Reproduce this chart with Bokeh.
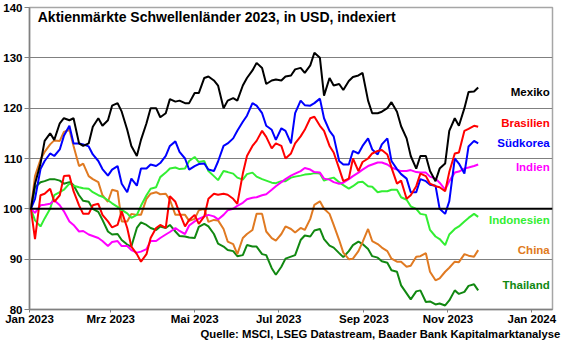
import pandas as pd
from bokeh.plotting import figure
from bokeh.models import Span, Label, FixedTicker, ColumnDataSource, Range1d
from bokeh.core.properties import value
from bokeh.embed import file_html
from bokeh.resources import INLINE

# ---- data (Monday / Thursday readings, indexed to 100) ----
mondays = list(pd.date_range("2023-01-02", periods=47, freq="7D"))
thursdays = list(pd.date_range("2023-01-05", periods=47, freq="7D"))
dates = sorted(mondays + thursdays)

mexiko = [100, 105, 109, 113.5, 115, 113.7, 117, 118, 117.6, 118, 113, 112.5, 113, 116.3, 118, 116.5,
          117.6, 120.5, 121, 119.3, 115.7, 112.5, 110.5, 113.7, 117, 120, 120, 118.2, 119, 121.8, 121.3, 121.5,
          121, 121, 123, 123, 126, 126.3, 125.5, 124.5, 120, 121.5, 122, 121.5, 124.5, 126, 127.5, 129,
          128, 124.8, 125.5, 125.7, 125.5, 126.3, 126.5, 127.7, 128, 127, 128.5, 131, 130, 122.5,
          126, 124.5, 124.8, 123.6, 125.4, 126.2, 126.5, 127, 121.5, 119, 119, 119.3, 120, 121.2, 119.3, 116.4,
          114, 110.5, 108, 110.5, 110.5, 107.5, 105.5, 108, 109, 115.5, 118, 116.5, 120, 123.2, 123.3, 124.1]
suedkorea = [100, 102, 107.9, 109.5, 111, 110.5, 111.8, 114.5, 116.5, 113, 113, 112.8, 112.4, 110.8, 109.5, 107.9,
             106.6, 107.8, 108.5, 105, 103.3, 106, 104.6, 108, 108, 108.8, 108.5, 109.1, 110.5, 112.5, 113.4, 111.3,
             110, 107.8, 108.5, 108.9, 109, 107.8, 107.5, 109.4, 112.5, 113, 114, 115.5, 117.3, 118.5, 121, 120.5,
             119, 116.5, 115.7, 113.7, 116, 115.5, 113, 119, 121.5, 120.6, 120.5, 121, 121.9, 118,
             115.5, 114.4, 109.5, 108.8, 108.8, 111.5, 111, 112.5, 114, 111.8, 110.8, 112.8, 114, 109.5, 107.9, 106.9,
             106, 103.3, 103.3, 105.9, 105.5, 104.8, 104.6, 100, 99, 101.5, 110, 109, 107, 112.4, 113.5, 113]
brasilien = [100, 94, 102.7, 103, 104, 101.4, 102.7, 106.5, 106.6, 103.5, 100.7, 99, 99, 100.7, 101, 98.8,
             97.5, 96.3, 96.8, 99.5, 96.2, 92.5, 91, 89.5, 91, 94.2, 96.2, 96.8, 96.2, 102.5, 101.4, 99.2,
             96.5, 97.8, 98.8, 97, 98.5, 102, 103, 102.8, 103, 102.8, 102, 101, 107, 110.5, 112.5, 113.5,
             115.5, 114.3, 112, 113, 112.5, 110, 111, 113, 114.4, 115.7, 118, 118.3, 116.5, 115.5,
             112.5, 111.2, 108, 105.5, 106, 110, 107.5, 109.3, 110, 111, 111.5, 111.7, 110.8, 108.2, 105, 105.6,
             102, 102.7, 104.5, 107, 106.5, 105, 104.5, 104.3, 103.5, 107.3, 111, 111.2, 115.5, 115.9, 116.5, 116.3]
indien = [100, 99.2, 100.7, 100.8, 101, 101.7, 100.7, 99.5, 97.5, 96.8, 95.5, 95.6, 94.9, 94.6, 94.2, 93.6,
          92.6, 93.4, 93.6, 92.6, 92.6, 91.8, 91.3, 91.5, 92, 93.6, 93.6, 94.2, 94.9, 95.4, 96.2, 95.6,
          95, 96.7, 97.5, 98, 98.5, 98.8, 98.5, 97.9, 98.8, 99.7, 100, 100.6, 101.2, 101.9, 102.2, 102.3,
          102.7, 102.9, 103.8, 104.5, 105.3, 105.9, 106.6, 107, 107.5, 108.1, 107.8, 107.3, 107.2, 106,
          105.8, 105.3, 105, 105.2, 105.9, 106.5, 107.2, 107.8, 108.5, 108.8, 109.2, 109.2, 108.8, 108.2, 107.8, 107.5,
          107.5, 107.7, 107.3, 107.2, 107.2, 106.4, 106, 105.2, 103.8, 105.5, 107.2, 107.4, 108, 108.2, 108.5, 108.8]
indonesien = [100, 97.7, 96.5, 98.1, 100, 102.7, 103.3, 103.8, 105, 104.6, 104.3, 104.1, 104, 103.3, 102.7, 102.4,
              101.7, 101.1, 100.4, 99.8, 99.1, 98.2, 98.8, 100.6, 102.7, 104, 104.3, 106.3, 107.2, 108, 108.2, 107.9,
              108, 109.5, 110.3, 109.3, 109.5, 107.5, 106.5, 105.7, 107.5, 107.3, 107, 106.2, 105.8, 106.9, 107.2, 106.4,
              105.9, 105.6, 105.2, 105.1, 105.5, 105.5, 106.2, 106.4, 106.6, 106.8, 106.9, 107.1, 107, 105.6,
              106, 106.2, 105.3, 104.7, 104, 104.5, 105.3, 105.4, 104.5, 104.4, 103.3, 103.5, 103.5, 103.8, 103.8, 102.3,
              101.8, 100.5, 100, 99, 98.8, 95.8, 94.5, 94, 92.8, 94.9, 96, 96.5, 97.5, 98.2, 99, 98.4]
china = [100, 106.5, 109.8, 111.3, 112.8, 113.6, 113.5, 115.3, 115.7, 112.5, 108.5, 109, 106.5, 105.9, 105.3, 102.7,
         101.4, 103.8, 103.5, 97.5, 97.5, 99, 98.8, 98.8, 102, 103, 103.3, 102.9, 103, 101.8, 98.8, 98.8,
         98.8, 97.6, 98, 99.7, 100, 97.4, 97.8, 97.7, 96, 93.5, 93, 91, 94.2, 95, 95.8, 99,
         99, 95.5, 94.2, 93.7, 95, 96.5, 96, 95.3, 96.2, 95.8, 98, 100.8, 101.5, 100,
         99, 96.8, 93.8, 91.3, 90, 90.1, 91.6, 93.4, 96, 93.6, 93, 92.3, 91.6, 90.1, 89.5, 89.5,
         88.5, 88.7, 90.5, 90.6, 91.2, 87.5, 85.8, 86.2, 87.5, 88.3, 89.5, 89.4, 91, 90.7, 90.5, 91.8]
thailand = [100, 104.3, 105.3, 105.5, 105.9, 105.9, 105.6, 105, 105.3, 104.7, 102.7, 101.6, 101.4, 100, 99.4, 97.8,
            95.5, 94.9, 95, 93.8, 92.9, 92.5, 96.2, 97.3, 96.8, 96.2, 95.8, 96.5, 96.2, 96.8, 95.5, 94.6,
            94.5, 94.3, 94.2, 96.4, 97, 96.5, 95, 93.1, 92.5, 91.8, 91.6, 90.6, 90.8, 92.8, 92.5, 92.5,
            91, 90.8, 88.2, 86.9, 88.5, 90.1, 90.5, 90.8, 93.8, 94.7, 94.5, 95.7, 96, 94,
            92.7, 92.3, 91.2, 90.4, 91.6, 92.8, 93.5, 93, 92, 90.6, 90.3, 89.6, 89.3, 87.8, 87.5, 84.8,
            83.2, 82, 83.6, 83.8, 81.5, 81.6, 81, 81.2, 80.8, 81.8, 83.8, 83.1, 83.5, 84.7, 85, 83.8]

names = ["Mexiko", "Brasilien", "Südkorea", "Indien", "Indonesien", "China", "Thailand"]
colors = ["#000000", "#FF0000", "#0000FF", "#FF00FF", "#33EE33", "#E07A22", "#118811"]
label_y = [123.3, 117.0, 113.1, 108.4, 97.7, 91.9, 84.9]

y_ticks = [80, 90, 100, 110, 120, 130, 140]
x_tick_dates = ["2023-01-01", "2023-03-01", "2023-05-01", "2023-07-01", "2023-09-01", "2023-11-01", "2024-01-01"]
x_tick_labels = ["Jan 2023", "Mrz 2023", "Mai 2023", "Jul 2023", "Sep 2023", "Nov 2023", "Jan 2024"]

title_text = "Aktienmärkte Schwellenländer 2023, in USD, indexiert"
source_text = "Quelle: MSCI, LSEG Datastream, Baader Bank Kapitalmarktanalyse"

series = [mexiko, brasilien, suedkorea, indien, indonesien, china, thailand]

def ms(d):
    return pd.Timestamp(d).value / 1e6

FONT = "Liberation Sans"

p = figure(width=564, height=342, x_axis_type="datetime", output_backend="svg",
           toolbar_location=None,
           x_range=Range1d(ms("2023-01-01"), ms("2024-01-16")),
           y_range=Range1d(80, 140),
           min_border_left=26, min_border_right=12, min_border_top=7, min_border_bottom=27)
p.background_fill_color = "white"
p.border_fill_color = "white"
p.outline_line_color = "#a6a6a6"
p.outline_line_width = 1.5

p.xgrid.grid_line_color = None
p.ygrid.grid_line_color = "#808080"
p.ygrid.grid_line_width = 1
p.ygrid.ticker = FixedTicker(ticks=y_ticks)

p.yaxis.ticker = FixedTicker(ticks=y_ticks)
p.xaxis.ticker = FixedTicker(ticks=[ms(d) for d in x_tick_dates])
p.xaxis.major_label_overrides = {ms(d): lab for d, lab in zip(x_tick_dates, x_tick_labels)}

for ax in (p.xaxis[0], p.yaxis[0]):
    ax.axis_line_color = "#808080"
    ax.axis_line_width = 1.5
    ax.major_tick_line_color = "#808080"
    ax.major_tick_in = 0
    ax.minor_tick_line_color = None
    ax.major_label_text_font = FONT
    ax.major_label_text_font_style = "bold"
    ax.major_label_text_font_size = "11.5px"
    ax.major_label_text_color = "#000000"
p.xaxis.major_tick_out = 3
p.xaxis.major_label_standoff = 0
p.yaxis.major_tick_out = 5
p.yaxis.major_label_standoff = 2

# source note as the x-axis label; leading no-break spaces push the centred text to the right
xa = p.xaxis[0]
xa.axis_label = "\u00a0" * 57 + source_text
xa.axis_label_text_font = FONT
xa.axis_label_text_font_style = "bold"
xa.axis_label_text_font_size = "11.3px"
xa.axis_label_text_color = "black"
xa.axis_label_standoff = 0

p.add_layout(Span(location=100, dimension="width", line_color="black", line_width=2))

for vals, c in reversed(list(zip(series, colors))):
    p.line(dates, vals, line_color=c, line_width=2)

src = ColumnDataSource(dict(x=[ms("2024-01-14")] * len(names), y=label_y, text=names, color=colors))
p.text(x="x", y="y", text="text", text_color="color", source=src, text_align="right",
       text_baseline="middle", text_font=value(FONT), text_font_style="bold", text_font_size="11.5px")

p.add_layout(Label(x=ms("2023-01-07"), y=138.2, text=title_text, text_font=FONT,
                   text_font_style="bold", text_font_size="14px", text_baseline="middle",
                   text_color="black"))

open("out.html", "w").write(file_html(p, INLINE))
